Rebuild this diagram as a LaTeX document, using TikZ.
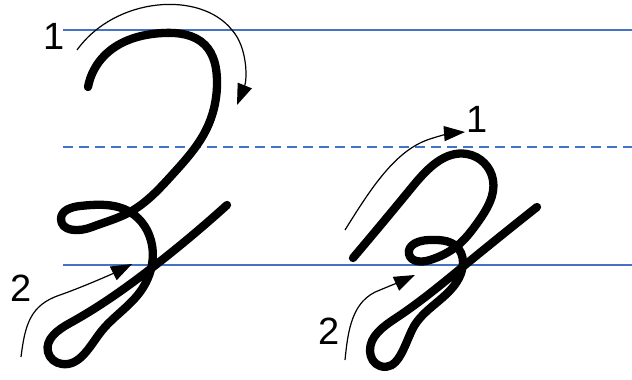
\documentclass[tikz,border=0pt]{standalone}
\usepackage{fontspec}
\setmainfont{Liberation Sans}
\usetikzlibrary{arrows.meta,hobby}
\definecolor{guide}{RGB}{68,114,196}
\tikzset{
  guideline/.style={draw=guide, line width=1.3pt},
  guidedash/.style={guideline, dash pattern=on 10pt off 6pt},
  letter/.style={draw=black, line width=8.3pt, line cap=round, line join=round, use Hobby shortcut},
  hint/.style={draw=black, line width=1.2pt, -{Triangle[length=21pt,width=15pt]}},
  num/.style={font=\fontsize{38}{38}\selectfont, inner sep=0pt}
}
\begin{document}
\begin{tikzpicture}[x=1pt,y=-1pt]
\path[use as bounding box] (0,0) rectangle (632,380);
% guide lines
\coordinate (gl1) at (63,30);  \coordinate (gr1) at (632,30);
\coordinate (gl2) at (63,147); \coordinate (gr2) at (632,147);
\coordinate (gl3) at (63,265); \coordinate (gr3) at (632,265);
\draw[guideline] (gl1) -- (gr1);
\draw[guidedash] (gl2) -- (gr2);
\draw[guideline] (gl3) -- (gr3);
% big letter
\draw[letter] (88,87) .. (105,55) .. (163,33) .. (205,45) .. (217,80)
 .. (207,128) .. (172,175) .. (130,212) .. (92,227) .. (61,219)
 .. (80,206) .. (130,212) .. (152,245) .. (140,292)
 .. (100,333) .. (62,364) .. (48,352) .. (70,323)
 .. (153,267) .. (227,205);
% small letter
\draw[letter] (353,258) .. (413,186) .. (467,154) .. (493,180)
 .. (478,222) .. (457,246) .. (430,260) .. (409,254) .. (429,240)
 .. (457,247) .. (459,278) .. (412,330) .. (380,366)
 .. (370,351) .. (396,318) .. (465,265) .. (537,207);
% hint arrows
\coordinate (a1s) at (77,50);   \coordinate (a1e) at (237,105);
\draw[hint] (a1s) .. controls (115,-3) and (200,-10) .. (232,30)
  .. controls (248,48) and (247,80) .. (a1e);
\coordinate (a2s) at (21,357);  \coordinate (a2e) at (132,264);
\draw[hint] (a2s) .. controls (25,325) and (30,305) .. (60,295)
  .. controls (80,288) and (110,275) .. (a2e);
\coordinate (a3s) at (345,230); \coordinate (a3e) at (465,132);
\draw[hint] (a3s) .. controls (370,190) and (395,150) .. (430,139)
  .. controls (442,135) and (452,133) .. (a3e);
\coordinate (a4s) at (345,360); \coordinate (a4e) at (415,275);
\draw[hint] (a4s) .. controls (348,330) and (352,300) .. (380,290)
  .. controls (392,285) and (402,281) .. (a4e);
% labels
\node[num] (n1a) at (54,36) {1};
\node[num] (n2a) at (21,288) {2};
\node[num] (n1b) at (477,119) {1};
\node[num] (n2b) at (329,331) {2};
\end{tikzpicture}
\end{document}
